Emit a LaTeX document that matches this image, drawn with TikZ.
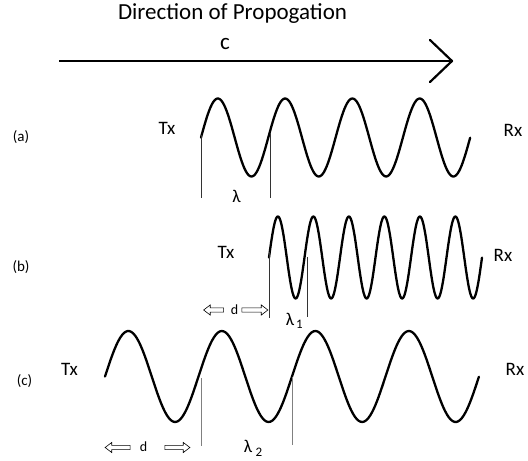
\documentclass[tikz,border=0pt]{standalone}
\usepackage{fontspec}
\setmainfont{Carlito}
\usetikzlibrary{shapes.arrows}
\begin{document}
\begin{tikzpicture}[x=1bp,y=-1bp,
  wave/.style={line width=2.3bp, line join=round, line cap=round},
  tick/.style={line width=0.8bp, black!80},
  gtick/.style={line width=0.9bp, black!50},
  lbl/.style={inner sep=0pt, anchor=base},
  big/.style={font=\fontsize{23bp}{27bp}\selectfont},
  txrx/.style={font=\fontsize{19bp}{23bp}\selectfont},
  part/.style={font=\fontsize{15bp}{18bp}\selectfont},
  lam/.style={font=\fontsize{18bp}{21bp}\selectfont},
  sub/.style={font=\fontsize{13bp}{15bp}\selectfont},
  dlbl/.style={font=\fontsize{14bp}{16bp}\selectfont},
  harrow/.style={draw, line width=0.6bp, single arrow, inner sep=1.8bp,
    single arrow head extend=3bp, single arrow tip angle=75}]
\useasboundingbox (0,0) rectangle (528,461);

% title and propagation arrow
\node[lbl,big] (title) at (232.5,20) {Direction of Propogation};
\node[lbl,big] (c) at (225,50) {c};
\coordinate (cs) at (59,61);
\coordinate (ce) at (452,61);
\draw[line width=2.2bp] (cs) -- (ce);
\draw[line width=2.2bp, line join=round, line cap=round]
  ([xshift=-22bp,yshift=21bp]ce) -- (ce) -- ([xshift=-22bp,yshift=-21bp]ce);

% (a)
\node[lbl,part] (pa) at (21,142) {(a)};
\node[lbl,txrx] (txa) at (167,135) {Tx};
\node[lbl,txrx] (rxa) at (513,137) {Rx};
\draw[wave] plot[domain=0:4, samples=200, smooth] ({201+67.3*\x},{137.5-39*sin(360*\x)});
\coordinate (a1t) at (201,135); \coordinate (a1b) at (201,198);
\coordinate (a2t) at (270,133); \coordinate (a2b) at (270,198);
\draw[tick] (a1t) -- (a1b);
\draw[tick] (a2t) -- (a2b);
\node[lbl,lam] (la) at (236.5,203) {λ};

% (b)
\node[lbl,part] (pb) at (21,271) {(b)};
\node[lbl,txrx] (txb) at (226,259) {Tx};
\node[lbl,txrx] (rxb) at (503,262) {Rx};
\draw[wave] plot[domain=0:6, samples=300, smooth] ({269+35.5*\x},{257.5-41*sin(360*\x)});
\coordinate (b1t) at (269,252); \coordinate (b1b) at (269,318);
\coordinate (b2t) at (307.5,257); \coordinate (b2b) at (307.5,317);
\draw[tick] (b1t) -- (b1b);
\draw[tick] (b2t) -- (b2b);
\node[lbl,lam] (lb) at (290,325) {λ};
\node[lbl,sub] (lb1) at (299.5,328) {1};
\node[harrow, minimum height=20bp, shape border rotate=180] (dbl) at (215,310) {};
\node[lbl,dlbl] (db) at (234.5,314) {d};
\node[harrow, minimum height=26bp] (dbr) at (253.5,310) {};

% (c)
\node[lbl,part] (pc) at (24.5,385) {(c)};
\node[lbl,txrx] (txc) at (69.5,375) {Tx};
\node[lbl,txrx] (rxc) at (515,375) {Rx};
\draw[wave] plot[domain=0:4, samples=200, smooth] ({105+93.5*\x},{376.5-45.5*sin(360*\x)});
\coordinate (c1t) at (201.5,378); \coordinate (c1b) at (201.5,446);
\coordinate (c2t) at (292.5,376.5); \coordinate (c2b) at (292.5,445);
\draw[gtick] (c1t) -- (c1b);
\draw[gtick] (c2t) -- (c2b);
\node[lbl,lam] (lc) at (248,452) {λ};
\node[lbl,sub] (lc2) at (259,456) {2};
\node[harrow, minimum height=25bp, shape border rotate=180] (dcl) at (119,447.5) {};
\node[lbl,dlbl] (dc) at (143.5,451.5) {d};
\node[harrow, minimum height=25bp] (dcr) at (176,447.5) {};
\end{tikzpicture}
\end{document}
